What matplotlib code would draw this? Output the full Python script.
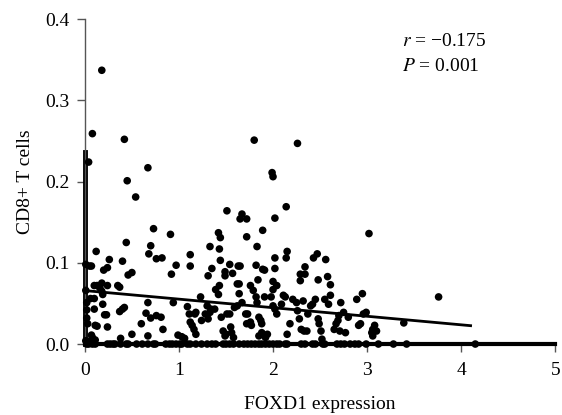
import matplotlib.pyplot as plt

# upper / scattered points (FOXD1 expression, CD8+ T cell fraction)
x_high = [0.18, 0.08, 0.04, 0.42, 0.45, 0.54, 0.67, 0.73, 0.44, 0.91, 0.12, 0.26, 0.40,
          0.68, 0.70, 0.76, 0.82, 0.97, 0.92, 1.12, 1.12, 1.51, 1.67, 1.65, 1.72, 1.72,
          1.80, 2.26, 1.99, 2.00, 2.14, 2.02, 1.89, 1.42, 1.44, 1.33, 1.43, 1.83, 2.15,
          3.02, 3.76, 2.02, 2.14, 2.47, 2.43, 2.56]
y_high = [0.337, 0.259, 0.224, 0.252, 0.201, 0.181, 0.217, 0.142, 0.125, 0.135, 0.114, 0.104, 0.102,
          0.111, 0.121, 0.105, 0.106, 0.097, 0.086, 0.110, 0.096, 0.164, 0.160, 0.154, 0.154, 0.132,
          0.251, 0.247, 0.211, 0.206, 0.169, 0.155, 0.140, 0.137, 0.131, 0.120, 0.117, 0.120, 0.114,
          0.136, 0.058, 0.106, 0.106, 0.111, 0.106, 0.104]

# mid band points
x_mid = [1.44, 1.35, 1.54, 1.63, 1.65, 1.82, 1.89, 1.91, 2.02, 2.34, 2.34, 2.29, 2.58, 2.48,
         2.29, 2.61, 1.31, 1.49, 1.49, 1.57, 1.84, 2.00, 1.43, 1.62, 1.64, 1.76, 2.04, 2.00,
         0.05, 0.07, 0.01, 0.20, 0.24, 0.35, 0.37, 0.46, 0.50, 0.10, 0.13, 0.16, 0.18, 0.24,
         0.18, 0.19, 0.06, 0.10, 0.01]
y_mid = [0.103, 0.093, 0.098, 0.096, 0.096, 0.097, 0.092, 0.091, 0.093, 0.095, 0.086, 0.086, 0.083, 0.079,
         0.078, 0.073, 0.084, 0.089, 0.084, 0.087, 0.079, 0.077, 0.072, 0.074, 0.074, 0.072, 0.072, 0.067,
         0.096, 0.096, 0.098, 0.091, 0.094, 0.072, 0.070, 0.085, 0.088, 0.072, 0.072, 0.069, 0.075, 0.072,
         0.065, 0.061, 0.056, 0.056, 0.066]

# low band points
x_low = [0.19, 0.10, 0.02, 0.02, 0.02, 0.03, 0.21, 0.23, 0.11, 0.13, 0.24, 0.07, 0.08, 0.11,
         0.37, 0.40, 0.42, 0.38, 0.50, 0.60, 0.65, 0.67, 0.67, 0.70, 0.76, 0.81, 0.83, 0.94,
         0.99, 1.03, 1.06, 1.09, 1.11, 1.12, 1.14, 1.17, 1.16, 1.18, 1.18, 1.23, 1.24, 1.28,
         1.30, 1.31, 1.33, 1.34, 1.38, 1.39, 1.42, 1.45, 1.47, 1.49, 1.50, 1.51, 1.54, 1.55,
         1.56, 1.58, 1.59, 1.62, 1.64, 1.67, 1.71, 1.73, 1.72, 1.76, 1.77, 1.79, 1.82, 1.83,
         1.85, 1.87, 1.88, 1.88, 1.85, 1.91, 1.92, 1.94, 1.98, 2.00, 2.02, 2.04, 2.09, 2.11,
         2.13, 2.15, 2.18, 2.21, 2.25, 2.26, 2.28, 2.30, 2.32, 2.33, 2.36, 2.37, 2.40, 2.42,
         2.45, 2.48, 2.49, 2.51, 2.52, 2.55, 2.59, 2.61, 2.65, 2.67, 2.69, 2.70, 2.71, 2.72,
         2.75, 2.77, 2.80, 2.89, 2.95, 2.91, 2.93, 2.96, 2.99, 3.05, 3.06, 3.08, 3.10, 3.06,
         3.39, 0.01, 0.04]
y_low = [0.049, 0.043, 0.051, 0.042, 0.032, 0.025, 0.036, 0.036, 0.023, 0.022, 0.021, 0.011, 0.008, 0.005,
         0.040, 0.043, 0.045, 0.007, 0.012, 0.025, 0.038, 0.051, 0.010, 0.032, 0.035, 0.033, 0.018, 0.051,
         0.011, 0.009, 0.007, 0.046, 0.037, 0.027, 0.023, 0.037, 0.018, 0.012, 0.039, 0.058, 0.029, 0.037,
         0.047, 0.031, 0.039, 0.043, 0.043, 0.067, 0.061, 0.033, 0.016, 0.010, 0.012, 0.037, 0.037, 0.021,
         0.014, 0.008, 0.045, 0.047, 0.062, 0.051, 0.037, 0.037, 0.025, 0.027, 0.023, 0.066, 0.058, 0.051,
         0.033, 0.029, 0.025, 0.014, 0.010, 0.058, 0.008, 0.012, 0.058, 0.047, 0.043, 0.037, 0.049, 0.060,
         0.058, 0.012, 0.025, 0.055, 0.051, 0.041, 0.031, 0.018, 0.053, 0.016, 0.016, 0.037, 0.047, 0.049,
         0.055, 0.031, 0.025, 0.016, 0.006, 0.055, 0.049, 0.060, 0.018, 0.025, 0.029, 0.035, 0.016, 0.051,
         0.039, 0.014, 0.033, 0.055, 0.062, 0.023, 0.025, 0.037, 0.039, 0.014, 0.018, 0.023, 0.016, 0.010,
         0.026, 0.004, 0.003]

# samples with zero CD8+ T cell fraction
x_zero = [0.02, 0.04, 0.08, 0.11, 0.24, 0.27, 0.30, 0.32, 0.38, 0.44, 0.46, 0.55, 0.61, 0.67,
          0.73, 0.75, 0.86, 0.90, 0.93, 0.97, 1.01, 1.03, 1.09, 1.12, 1.18, 1.24, 1.30, 1.35,
          1.39, 1.47, 1.50, 1.54, 1.58, 1.64, 1.69, 1.73, 1.77, 1.81, 1.85, 1.88, 1.92, 1.96,
          2.00, 2.04, 2.07, 2.13, 2.15, 2.30, 2.34, 2.42, 2.45, 2.53, 2.55, 2.68, 2.72, 2.76,
          2.82, 2.87, 2.91, 2.99, 3.12, 3.28, 3.42, 4.15]

# samples stacked at FOXD1 = 0 (show as a solid bar along the y axis)
x0_span = [0.0, 0.0]
y0_span = [0.0, 0.236]

# fitted regression line
fit_x = [0.0, 4.1]
fit_y = [0.0658, 0.0226]

plt.rcParams['font.family'] = ['Liberation Serif', 'DejaVu Serif']
plt.rcParams['mathtext.fontset'] = 'stix'

fig = plt.figure(figsize=(5.62, 4.15), dpi=100)
ax = fig.add_axes([0.151, 0.171, 0.837, 0.783])

xs = x_high + x_mid + x_low + x_zero
ys = y_high + y_mid + y_low + [0.0] * len(x_zero)
ax.scatter(xs, ys, s=30, color='black', edgecolors='none', zorder=3, clip_on=False)
ax.plot(x0_span, y0_span, color='black', lw=3.5, zorder=2, clip_on=False)
ax.plot(fit_x, fit_y, color='black', lw=2, zorder=4)

ax.set_xlim(0, 5)
ax.set_ylim(0, 0.4)
ax.set_xticks([0, 1, 2, 3, 4, 5])
ax.set_yticks([0.0, 0.1, 0.2, 0.3, 0.4])
ax.set_yticklabels(['0.0', '0.1', '0.2', '0.3', '0.4'])

ax.spines['top'].set_visible(False)
ax.spines['right'].set_visible(False)
ax.spines['left'].set_color('#555555')
ax.spines['left'].set_linewidth(1)
ax.spines['bottom'].set_color('black')
ax.spines['bottom'].set_linewidth(3)
ax.tick_params(axis='both', direction='out', length=6, width=1, color='#555555',
               labelsize=14)
ax.tick_params(axis='x', pad=7)
ax.tick_params(axis='y', pad=5)

ax.set_xlabel('FOXD1 expression', fontsize=14, labelpad=12)
ax.set_ylabel('CD8+ T cells', fontsize=14, labelpad=8)

ax.text(3.37, 0.373, '$r$ = \u22120.175', fontsize=14, va='center')
ax.text(3.37, 0.342, '$P$ = 0.001', fontsize=14, va='center')

fig.savefig('out.png', dpi=100)
